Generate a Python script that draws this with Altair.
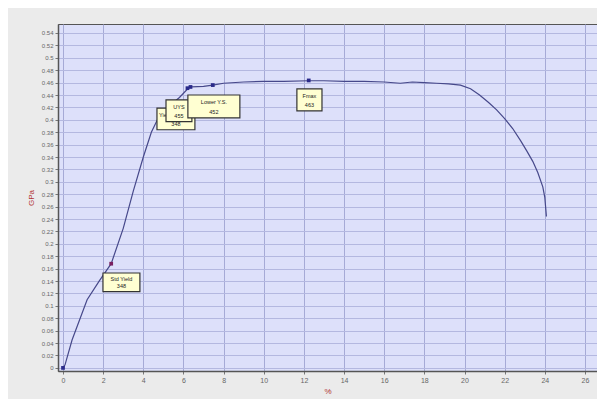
import altair as alt
import pandas as pd

# Stress-strain curve
strain = [0, 0.1, 0.45, 1.2, 1.8, 2.4, 3.0, 3.5, 4.0, 4.4, 4.7, 5.0, 5.4, 5.8, 6.27,
          6.4, 7.0, 7.46, 8.0, 9.0, 10, 11, 12.24, 13, 14, 15, 16, 16.8, 17.4, 18,
          18.6, 19.2, 19.8, 20.3, 20.75, 21.2, 21.6, 22.0, 22.4, 22.8, 23.1, 23.4,
          23.65, 23.9, 24.0, 24.08]
stress = [0, 0.005, 0.045, 0.11, 0.14, 0.168, 0.225, 0.285, 0.34, 0.38, 0.40, 0.412,
          0.425, 0.436, 0.452, 0.453, 0.454, 0.456, 0.459, 0.461, 0.462, 0.462, 0.463,
          0.463, 0.462, 0.462, 0.461, 0.459, 0.461, 0.46, 0.459, 0.458, 0.456, 0.45,
          0.44, 0.428, 0.416, 0.402, 0.386, 0.366, 0.35, 0.333, 0.315, 0.292, 0.275,
          0.244]

# Marked points
pt_x = [0, 2.4, 6.2, 6.35, 7.46, 12.24]
pt_y = [0, 0.168, 0.451, 0.453, 0.456, 0.4635]
pt_c = ["#2a2a8a", "#7a2060", "#2a2a8a", "#2a2a8a", "#2a2a8a", "#2a2a8a"]

# Annotation boxes (drawn back to front)
box_x1 = [1.99, 4.68, 5.13, 6.22, 11.65]
box_x2 = [3.83, 6.57, 6.42, 8.81, 12.90]
box_y1 = [0.123, 0.384, 0.397, 0.403, 0.4145]
box_y2 = [0.153, 0.419, 0.432, 0.440, 0.450]
box_l1 = ["Std Yield", "Yield", "UYS", "Lower Y.S.", "Fmax"]
box_l2 = ["348", "348", "455", "452", "463"]
box_align = ["center", "left", "center", "center", "center"]

x_ticks = list(range(0, 27, 2))
y_ticks = [round(i * 0.02, 2) for i in range(0, 28)]

curve = pd.DataFrame({"x": strain, "y": stress})
pts = pd.DataFrame({"x": pt_x, "y": pt_y, "c": pt_c})
boxes = pd.DataFrame({"x1": box_x1, "x2": box_x2, "y1": box_y1, "y2": box_y2,
                      "l1": box_l1, "l2": box_l2, "i": list(range(len(box_l1)))})
boxes["xm"] = (boxes["x1"] + boxes["x2"]) / 2
boxes["ya"] = boxes["y2"] - (boxes["y2"] - boxes["y1"]) * 0.32
boxes["yb"] = boxes["y2"] - (boxes["y2"] - boxes["y1"]) * 0.72

xs = alt.Scale(domain=[-0.25, 26.6], nice=False, zero=False)
ys = alt.Scale(domain=[-0.005, 0.5545], nice=False, zero=False)

xenc = alt.X("x:Q", scale=xs, axis=alt.Axis(
    values=x_ticks, title="%", titleColor="#b03030", titleFontSize=8,
    titleFontWeight="normal", labelFontSize=7, labelColor="#666", grid=True,
    gridColor="#a6aad6", tickSize=3, domainColor="#555", domainWidth=1.5,
    tickColor="#777", titlePadding=4, labelOverlap=False))
yenc = alt.Y("y:Q", scale=ys, axis=alt.Axis(
    values=y_ticks, format="~g", title="GPa", titleColor="#b03030",
    titleFontSize=8, titleFontWeight="normal", labelFontSize=6, labelColor="#666",
    grid=True, gridColor="#b4b8e0", tickSize=3, domainColor="#555",
    domainWidth=1.5, tickColor="#777", titlePadding=6, labelOverlap=False,
    labelFlush=False, tickCount=len(y_ticks)))

line = alt.Chart(curve).mark_line(color="#46488a", strokeWidth=1.2).encode(
    x=xenc, y=yenc, order="x:Q")
points = alt.Chart(pts).mark_square(size=14, opacity=1).encode(
    x="x:Q", y="y:Q", color=alt.Color("c:N", scale=None))

layers = [line, points]
for i in range(len(box_l1)):
    b = boxes[boxes["i"] == i].copy()
    al = box_align[i]
    b["xt"] = b["x1"] + 0.1 if al == "left" else b["xm"]
    base = alt.Chart(b)
    layers.append(base.mark_rect(fill="#ffffd2", stroke="#333", strokeWidth=1.2).encode(
        x="x1:Q", x2="x2:Q", y="y1:Q", y2="y2:Q"))
    layers.append(base.mark_text(fontSize=5.5, color="#222", align=al).encode(
        x="xt:Q", y="ya:Q", text="l1:N"))
    layers.append(base.mark_text(fontSize=5.5, color="#222").encode(
        x="xm:Q", y="yb:Q", text="l2:N"))

chart = alt.layer(*layers).properties(
    width=539, height=347,
    autosize=alt.AutoSizeParams(type="none"),
    padding={"left": 50, "top": 16, "right": 0, "bottom": 28},
    background="#ebebeb",
).configure_view(fill="#dde0fa", stroke="#555", strokeWidth=1)

chart.save("out.html", embed_options={"renderer": "svg", "actions": False})
